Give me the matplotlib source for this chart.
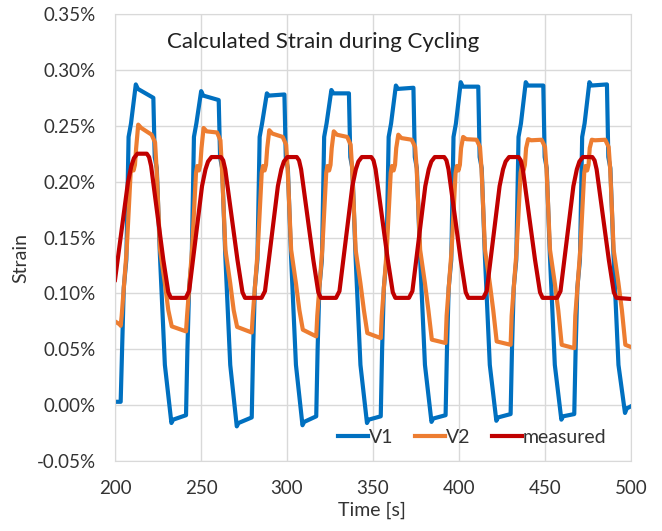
import matplotlib
matplotlib.use("Agg")
import matplotlib.pyplot as plt
from matplotlib.ticker import FuncFormatter

plt.rcParams["font.family"] = ["Lato", "DejaVu Sans"]

# strain values in percent, time in seconds
v1_t = [200.0, 202.8,
        203.3, 204.1, 205.1, 205.7, 206.6, 207.9, 209.3, 212.1, 213.3, 222.3, 223.1, 224.3, 226.1, 229.0, 232.8, 233.8,
        241.3, 242.1, 243.1, 243.7, 244.6, 245.9, 247.3, 250.1, 251.3, 260.3, 261.1, 262.3, 264.1, 267.0, 270.8, 271.8,
        279.5, 280.3, 281.3, 281.9, 282.8, 284.1, 285.5, 288.3, 289.5, 298.5, 299.3, 300.5, 302.3, 305.2, 309.0, 310.0,
        317.0, 317.8, 318.8, 319.4, 320.3, 321.6, 323.0, 325.8, 327.0, 336.0, 336.8, 338.0, 339.8, 342.7, 346.5, 347.5,
        354.5, 355.3, 356.3, 356.9, 357.8, 359.1, 360.5, 363.3, 364.5, 373.5, 374.3, 375.5, 377.3, 380.2, 384.0, 385.0,
        392.2, 393.0, 394.0, 394.6, 395.5, 396.8, 398.2, 401.0, 402.2, 411.2, 412.0, 413.2, 415.0, 417.9, 421.7, 422.7,
        430.0, 430.8, 431.8, 432.4, 433.3, 434.6, 436.0, 438.8, 440.0, 449.0, 449.8, 451.0, 452.8, 455.7, 459.5, 460.5,
        467.0, 467.8, 468.8, 469.4, 470.3, 471.6, 473.0, 475.8, 477.0, 486.0, 486.8, 488.0, 489.8, 492.7, 496.5, 497.5,
        500.0]
v1 = [0.003, 0.003,
      0.003, 0.050, 0.105, 0.115, 0.130, 0.240, 0.252, 0.287, 0.283, 0.275, 0.222, 0.212, 0.135, 0.036, -0.016, -0.013,
      -0.009, 0.050, 0.105, 0.115, 0.130, 0.240, 0.252, 0.281, 0.277, 0.273, 0.222, 0.212, 0.135, 0.036, -0.019, -0.016,
      -0.011, 0.050, 0.105, 0.115, 0.130, 0.240, 0.252, 0.279, 0.277, 0.278, 0.222, 0.212, 0.135, 0.036, -0.018, -0.015,
      -0.010, 0.050, 0.105, 0.115, 0.130, 0.240, 0.252, 0.282, 0.279, 0.279, 0.222, 0.212, 0.135, 0.036, -0.016, -0.013,
      -0.010, 0.050, 0.105, 0.115, 0.130, 0.240, 0.252, 0.286, 0.283, 0.284, 0.222, 0.212, 0.135, 0.036, -0.015, -0.012,
      -0.009, 0.050, 0.105, 0.115, 0.130, 0.240, 0.252, 0.289, 0.285, 0.285, 0.222, 0.212, 0.135, 0.036, -0.014, -0.011,
      -0.008, 0.050, 0.105, 0.115, 0.130, 0.240, 0.252, 0.289, 0.286, 0.286, 0.222, 0.212, 0.135, 0.036, -0.013, -0.010,
      -0.008, 0.050, 0.105, 0.115, 0.130, 0.240, 0.252, 0.289, 0.286, 0.287, 0.222, 0.212, 0.135, 0.036, -0.007, -0.003,
      -0.001]

v2_t = [200.0, 203.0,
        203.3, 203.9, 206.8, 209.1, 209.8, 210.8, 211.6, 212.3, 213.5, 215.3, 221.3, 223.3, 224.2, 226.2, 229.0, 231.0, 233.0,
        241.3, 241.9, 244.8, 247.1, 247.8, 248.8, 249.6, 250.3, 251.5, 253.3, 259.3, 261.3, 262.2, 264.2, 267.0, 269.0, 271.0,
        279.5, 280.1, 283.0, 285.3, 286.0, 287.0, 287.8, 288.5, 289.7, 291.5, 297.5, 299.5, 300.4, 302.4, 305.2, 307.2, 309.2,
        317.0, 317.6, 320.5, 322.8, 323.5, 324.5, 325.3, 326.0, 327.2, 329.0, 335.0, 337.0, 337.9, 339.9, 342.7, 344.7, 346.7,
        354.5, 355.1, 358.0, 360.3, 361.0, 362.0, 362.8, 363.5, 364.7, 366.5, 372.5, 374.5, 375.4, 377.4, 380.2, 382.2, 384.2,
        392.2, 392.8, 395.7, 398.0, 398.7, 399.7, 400.5, 401.2, 402.4, 404.2, 410.2, 412.2, 413.1, 415.1, 417.9, 419.9, 421.9,
        430.0, 430.6, 433.5, 435.8, 436.5, 437.5, 438.3, 439.0, 440.2, 442.0, 448.0, 450.0, 450.9, 452.9, 455.7, 457.7, 459.7,
        467.0, 467.6, 470.5, 472.8, 473.5, 474.5, 475.3, 476.0, 477.2, 479.0, 485.0, 487.0, 487.9, 489.9, 492.7, 494.7, 496.7,
        500.0]
v2 = [0.075, 0.072,
      0.071, 0.080, 0.139, 0.208, 0.214, 0.210, 0.215, 0.230, 0.251, 0.248, 0.242, 0.235, 0.211, 0.139, 0.109, 0.085, 0.0705,
      0.066, 0.080, 0.139, 0.208, 0.214, 0.210, 0.215, 0.230, 0.248, 0.245, 0.244, 0.237, 0.211, 0.139, 0.109, 0.085, 0.070,
      0.065, 0.080, 0.139, 0.208, 0.214, 0.210, 0.215, 0.230, 0.246, 0.243, 0.240, 0.233, 0.211, 0.139, 0.109, 0.085, 0.0675,
      0.0615, 0.080, 0.139, 0.208, 0.214, 0.210, 0.215, 0.230, 0.245, 0.242, 0.240, 0.233, 0.211, 0.139, 0.109, 0.085, 0.0645,
      0.060, 0.080, 0.139, 0.208, 0.214, 0.210, 0.215, 0.230, 0.242, 0.239, 0.2375, 0.231, 0.211, 0.139, 0.109, 0.085, 0.0586,
      0.0556, 0.080, 0.139, 0.208, 0.214, 0.210, 0.215, 0.230, 0.240, 0.238, 0.2375, 0.231, 0.211, 0.139, 0.109, 0.085, 0.057,
      0.054, 0.080, 0.139, 0.208, 0.214, 0.210, 0.215, 0.230, 0.238, 0.237, 0.2375, 0.231, 0.211, 0.139, 0.109, 0.085, 0.054,
      0.051, 0.080, 0.139, 0.208, 0.214, 0.210, 0.215, 0.230, 0.2375, 0.237, 0.2375, 0.231, 0.211, 0.139, 0.109, 0.085, 0.054,
      0.052]

meas_t = [200.0, 207.5, 209.5, 211.0, 213.0, 218.5, 219.8, 221.0, 228.1, 231.0, 232.5,
          241.1, 243.1, 250.6, 252.6, 254.1, 256.1, 261.6, 262.9, 264.1, 271.2, 274.1, 275.6,
          285.2, 287.2, 294.7, 296.7, 298.2, 300.2, 305.7, 307.0, 308.2, 315.3, 318.2, 319.7,
          328.5, 330.5, 338.0, 340.0, 341.5, 343.5, 349.0, 350.3, 351.5, 358.6, 361.5, 363.0,
          370.9, 372.9, 380.4, 382.4, 383.9, 385.9, 391.4, 392.7, 393.9, 401.0, 403.9, 405.4,
          414.1, 416.1, 423.6, 425.6, 427.1, 429.1, 434.6, 435.9, 437.1, 444.2, 447.1, 448.6,
          457.0, 459.0, 466.5, 468.5, 470.0, 472.0, 477.5, 478.8, 480.0, 487.1, 490.0, 491.5,
          500.0]
meas = [0.112, 0.199, 0.214, 0.221, 0.225, 0.225, 0.222, 0.214, 0.130, 0.101, 0.096,
        0.096, 0.102, 0.196, 0.211, 0.218, 0.222, 0.222, 0.219, 0.211, 0.130, 0.101, 0.096,
        0.096, 0.102, 0.196, 0.211, 0.218, 0.222, 0.222, 0.219, 0.211, 0.130, 0.101, 0.096,
        0.096, 0.102, 0.196, 0.211, 0.218, 0.222, 0.222, 0.219, 0.211, 0.130, 0.101, 0.096,
        0.096, 0.102, 0.196, 0.211, 0.218, 0.222, 0.222, 0.219, 0.211, 0.130, 0.101, 0.096,
        0.096, 0.102, 0.196, 0.211, 0.218, 0.222, 0.222, 0.219, 0.211, 0.130, 0.101, 0.096,
        0.096, 0.102, 0.196, 0.211, 0.218, 0.222, 0.222, 0.219, 0.211, 0.130, 0.101, 0.096,
        0.095]

x_ticks = [200, 250, 300, 350, 400, 450, 500]
y_ticks = [-0.05, 0.0, 0.05, 0.10, 0.15, 0.20, 0.25, 0.30, 0.35]

text_col = "#333333"
grid_col = "#d9d9d9"

fig = plt.figure(figsize=(6.62, 5.31), dpi=100)
ax = fig.add_axes([0.1737, 0.1318, 0.7795, 0.8418])

lw = 3.0
ax.plot(v1_t, v1, color="#0070c0", lw=lw, label="V1", solid_joinstyle="round")
ax.plot(v2_t, v2, color="#ed7d31", lw=lw, label="V2", solid_joinstyle="round")
ax.plot(meas_t, meas, color="#c00000", lw=lw, label="measured", solid_joinstyle="round")

ax.set_xlim(200, 500)
ax.set_ylim(-0.05, 0.35)
ax.set_xticks(x_ticks)
ax.set_yticks(y_ticks)
ax.yaxis.set_major_formatter(FuncFormatter(lambda v, p: f"{v:.2f}%"))
ax.grid(True, color=grid_col, lw=1)
ax.set_axisbelow(True)
for s in ax.spines.values():
    s.set_color(grid_col)
ax.tick_params(length=0, labelsize=13.5, colors=text_col, pad=14)

ax.set_xlabel("Time [s]", fontsize=14, color=text_col)
ax.xaxis.set_label_coords(0.498, -0.092)
ax.set_ylabel("Strain", fontsize=14, color=text_col)
ax.yaxis.set_label_coords(-0.166, 0.454)

ax.text(0.101, 0.937, "Calculated Strain during Cycling", transform=ax.transAxes,
        fontsize=16, color="#202020", va="center", ha="left")

ax.legend(loc="center left", bbox_to_anchor=(0.432, 0.052), ncol=3, frameon=False,
          fontsize=14, handlelength=1.55, handletextpad=0.05, columnspacing=1.1,
          labelcolor=text_col, borderaxespad=0, borderpad=0)

fig.savefig("out.png", dpi=100)
